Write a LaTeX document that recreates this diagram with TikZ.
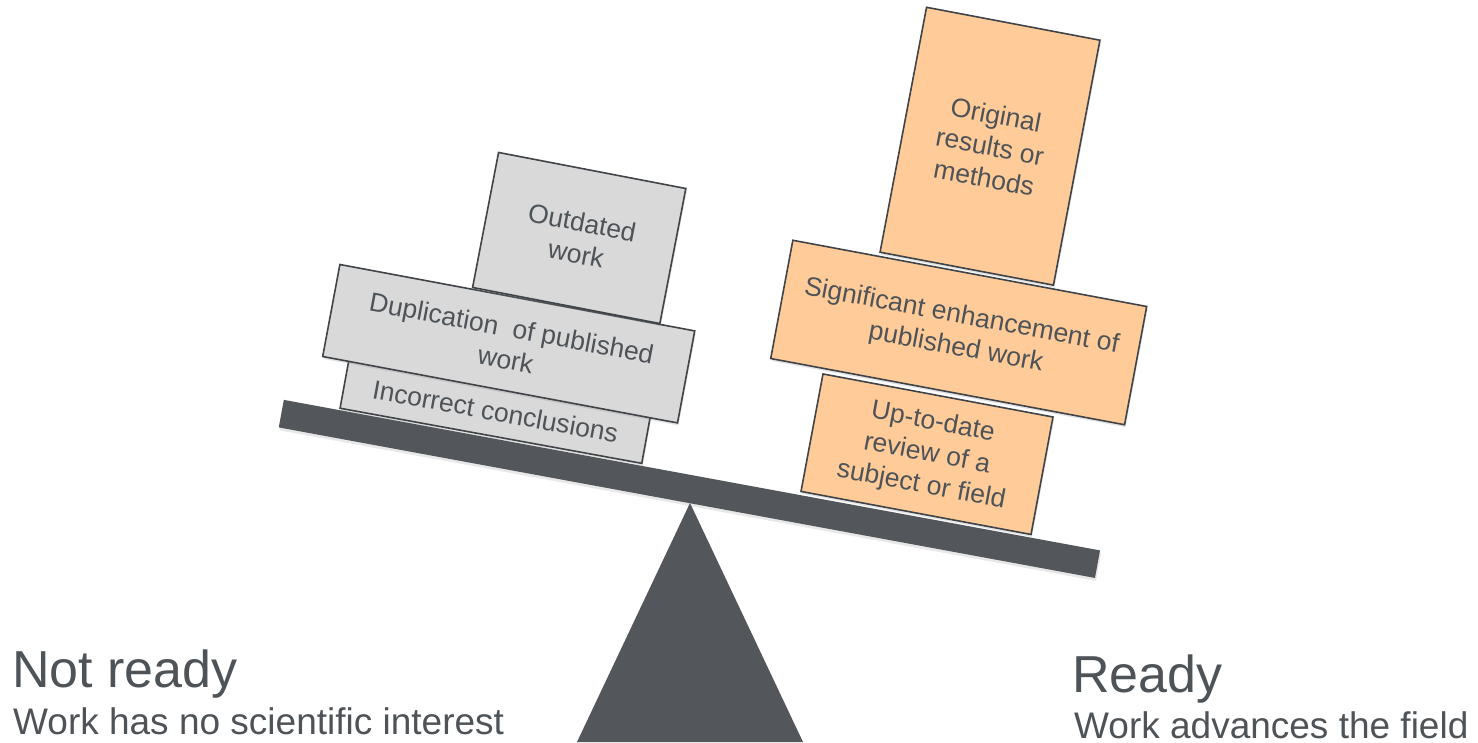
\documentclass[tikz,border=0pt]{standalone}
\usepackage{fontspec}
\setmainfont{Liberation Sans}
\usetikzlibrary{shadows}
\definecolor{slate}{HTML}{53565A}
\definecolor{txt}{HTML}{4E5358}
\definecolor{boxgray}{HTML}{D9D9D9}
\definecolor{boxorange}{HTML}{FFCC99}
\definecolor{edge}{HTML}{404448}
\begin{document}
\begin{tikzpicture}[x=1pt,y=-1pt,
  block/.style={draw=edge, line width=1.6pt, text=txt, align=center, inner sep=0pt,
    font=\fontsize{26.5}{32}\selectfont,
    drop shadow={shadow xshift=1pt, shadow yshift=-2.5pt, opacity=0.22}},
  grayblock/.style={block, fill=boxgray},
  orangeblock/.style={block, fill=boxorange},
  bigtitle/.style={text=txt, inner sep=0pt, anchor=base west, font=\fontsize{52}{60}\selectfont},
  subtitle/.style={text=txt, inner sep=0pt, anchor=base west, font=\fontsize{37}{44}\selectfont},
]
\useasboundingbox (0,0) rectangle (1478,742);
% fulcrum
\coordinate (apex) at (690,503);
\coordinate (baseL) at (577,742);
\coordinate (baseR) at (803,742);
\fill[slate] (apex) -- (baseL) -- (baseR) -- cycle;
% beam
\node[fill=slate, minimum width=830pt, minimum height=28pt, inner sep=0pt, rotate=-10.45,
  drop shadow={shadow xshift=1pt, shadow yshift=-3pt, opacity=0.18}] (beam) at (689.4,488.9) {};
% left stack
\node[grayblock, minimum width=306.7pt, minimum height=50pt, rotate=-10.35] (incorrect) at (495.4,411.2) {Incorrect conclusions};
\node[grayblock, minimum width=361pt, minimum height=93.6pt, rotate=-10.6] (dup) at (508.7,343.7) {Duplication\ \ of published\\work};
\node[grayblock, minimum width=190.7pt, minimum height=137.5pt, rotate=-10.9] (outdated) at (579.2,238) {Outdated\\work};
% right stack
\node[orangeblock, minimum width=234pt, minimum height=119.5pt, rotate=-10.6] (review) at (927,454.2) {Up-to-date\\review of a\\subject or field};
\node[orangeblock, minimum width=360pt, minimum height=120.3pt, rotate=-10.6] (enh) at (958.7,332.5) {Significant enhancement of\\published work};
\node[orangeblock, minimum width=176.5pt, minimum height=249.3pt, rotate=-10.75] (orig) at (990,146.2) {Original\\results or\\methods};
% captions
\node[bigtitle] (notready) at (12,687) {Not ready};
\node[subtitle] (nointerest) at (13,734) {Work has no scientific interest};
\node[bigtitle] (ready) at (1072,692) {Ready};
\node[subtitle] (advances) at (1074,738) {Work advances the field};
\end{tikzpicture}
\end{document}
